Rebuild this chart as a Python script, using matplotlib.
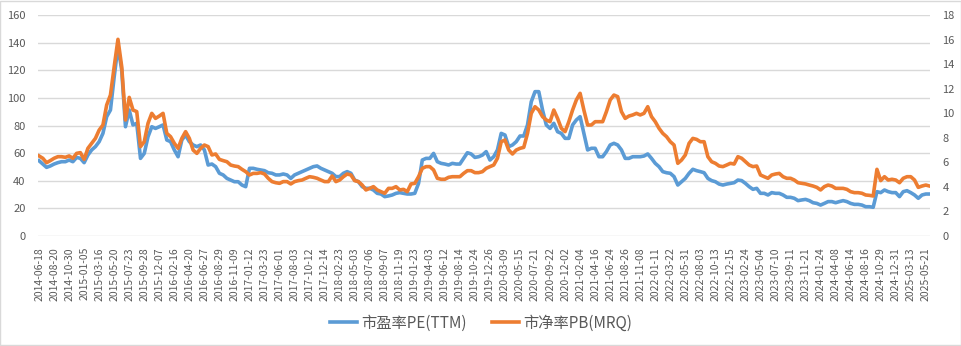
import numpy as np
import matplotlib
matplotlib.use("Agg")
import matplotlib.pyplot as plt
from matplotlib.patches import Rectangle

plt.rcParams['font.family'] = ['Noto Sans CJK SC', 'DejaVu Sans']

# 横轴标签（每隔45个交易日一个）
dates = [
    '2014-06-18', '2014-08-20', '2014-10-30',
    '2015-01-05', '2015-03-16', '2015-05-20', '2015-07-23', '2015-09-28', '2015-12-07',
    '2016-02-16', '2016-04-20', '2016-06-27', '2016-08-29', '2016-11-09',
    '2017-01-12', '2017-03-23', '2017-06-01', '2017-08-03', '2017-10-12', '2017-12-14',
    '2018-02-23', '2018-05-03', '2018-07-06', '2018-09-07', '2018-11-19',
    '2019-01-23', '2019-04-03', '2019-06-12', '2019-08-14', '2019-10-24', '2019-12-26',
    '2020-03-09', '2020-05-15', '2020-07-21', '2020-09-22', '2020-12-02',
    '2021-02-04', '2021-04-16', '2021-06-24', '2021-08-26', '2021-11-08',
    '2022-01-11', '2022-03-22', '2022-05-31', '2022-08-03', '2022-10-13', '2022-12-15',
    '2023-02-24', '2023-05-04', '2023-07-10', '2023-09-11', '2023-11-21',
    '2024-01-24', '2024-04-08', '2024-06-14', '2024-08-16', '2024-10-29', '2024-12-31',
    '2025-03-13', '2025-05-21',
]

# 市盈率PE(TTM)，每1/4个标签间隔取一个点
pe = [
    54.5, 52.1, 49.7, 50.7, 52.1, 53.1, 53.8, 53.8, 55.0, 53.8,
    56.9, 56.2, 53.1, 58.6, 62.3, 64.7, 68.3, 74.3, 86.4, 91.2,
    115.3, 137.1, 120.2, 79.1, 91.2, 80.4, 81.6, 56.2, 59.8, 71.9,
    79.1, 77.9, 79.1, 80.4, 69.5, 68.3, 62.3, 57.4, 69.5, 73.1,
    68.3, 65.9, 64.7, 65.9, 62.3, 51.4, 52.1, 50.2, 45.4, 44.2,
    41.7, 40.5, 39.3, 39.3, 36.9, 35.7, 49.0, 49.0, 48.3, 47.8,
    47.3, 45.8, 45.4, 44.2, 44.2, 44.9, 44.2, 41.7, 44.2, 45.4,
    46.6, 47.8, 49.0, 50.2, 50.7, 49.0, 47.8, 46.6, 45.4, 43.0,
    43.0, 45.4, 46.6, 45.4, 40.5, 39.3, 35.7, 34.5, 34.5, 33.3,
    30.9, 30.4, 28.5, 29.0, 29.7, 30.9, 31.4, 30.9, 30.4, 30.4,
    30.9, 38.1, 55.0, 56.2, 56.2, 59.8, 53.8, 52.6, 52.1, 51.4,
    52.6, 52.1, 52.1, 56.2, 60.3, 59.4, 56.9, 57.4, 58.6, 61.1,
    55.0, 57.4, 62.3, 74.3, 73.1, 64.7, 65.9, 68.3, 72.4, 72.4,
    80.4, 97.2, 104.5, 104.5, 91.2, 80.4, 77.9, 81.6, 75.5, 74.3,
    70.7, 70.7, 80.4, 84.0, 86.4, 74.3, 62.3, 63.5, 63.5, 57.4,
    57.4, 61.1, 65.9, 67.1, 65.9, 62.3, 56.2, 56.2, 57.4, 57.4,
    57.4, 57.9, 59.4, 56.2, 52.6, 50.2, 46.6, 45.8, 45.4, 43.0,
    36.9, 39.3, 41.7, 45.4, 48.3, 47.3, 46.6, 45.8, 41.7, 40.1,
    39.3, 37.6, 36.9, 37.6, 38.1, 38.6, 40.5, 40.1, 38.1, 35.7,
    33.8, 34.5, 30.9, 30.9, 29.7, 31.4, 30.9, 30.9, 29.7, 28.0,
    28.0, 27.3, 25.6, 26.1, 26.5, 25.6, 24.1, 23.6, 22.4, 23.6,
    24.9, 24.9, 24.1, 24.9, 25.6, 24.9, 23.6, 22.9, 22.9, 22.4,
    21.2, 21.2, 20.8, 32.1, 31.4, 33.3, 32.1, 31.4, 31.4, 28.5,
    32.1, 32.8, 31.4, 29.7, 27.3, 29.7, 30.4, 30.4,
]

# 市净率PB(MRQ)，右轴
pb = [
    6.52, 6.33, 5.97, 6.14, 6.33, 6.46, 6.46, 6.41, 6.52, 6.33,
    6.73, 6.79, 6.24, 7.14, 7.55, 7.95, 8.63, 9.04, 10.67, 11.48,
    13.79, 16.02, 13.79, 9.45, 11.29, 10.26, 10.13, 7.28, 7.68, 9.18,
    9.99, 9.58, 9.77, 9.99, 8.36, 8.09, 7.55, 7.14, 7.95, 8.50,
    7.95, 7.00, 6.73, 7.14, 7.41, 7.28, 6.60, 6.68, 6.24, 6.14,
    6.05, 5.78, 5.70, 5.65, 5.43, 5.24, 4.97, 5.10, 5.10, 5.16,
    5.05, 4.70, 4.43, 4.34, 4.29, 4.43, 4.43, 4.24, 4.43, 4.51,
    4.56, 4.70, 4.83, 4.78, 4.70, 4.56, 4.43, 4.43, 4.89, 4.43,
    4.56, 4.83, 5.05, 4.97, 4.51, 4.43, 4.15, 3.75, 3.88, 4.02,
    3.75, 3.61, 3.48, 3.88, 3.88, 4.02, 3.75, 3.80, 3.61, 4.24,
    4.29, 4.83, 5.51, 5.65, 5.65, 5.38, 4.70, 4.62, 4.62, 4.78,
    4.83, 4.83, 4.83, 5.10, 5.32, 5.32, 5.16, 5.16, 5.24, 5.51,
    5.65, 5.78, 6.33, 7.68, 7.82, 7.00, 6.68, 7.00, 7.14, 7.22,
    8.36, 9.99, 10.53, 10.26, 9.72, 9.45, 9.31, 10.26, 9.58, 8.77,
    8.50, 9.31, 10.26, 11.08, 11.62, 10.26, 9.04, 9.04, 9.31, 9.31,
    9.31, 10.13, 11.08, 11.48, 11.35, 10.13, 9.58, 9.77, 9.86, 9.99,
    9.86, 9.99, 10.53, 9.72, 9.31, 8.77, 8.36, 8.09, 7.68, 7.41,
    5.92, 6.19, 6.60, 7.55, 7.95, 7.87, 7.68, 7.68, 6.46, 6.05,
    5.92, 5.70, 5.65, 5.78, 5.92, 5.86, 6.46, 6.33, 6.05, 5.78,
    5.65, 5.70, 4.97, 4.83, 4.70, 4.97, 5.05, 5.10, 4.83, 4.70,
    4.70, 4.56, 4.34, 4.29, 4.24, 4.15, 4.07, 3.96, 3.75, 4.02,
    4.15, 4.07, 3.88, 3.88, 3.88, 3.80, 3.61, 3.53, 3.53, 3.48,
    3.34, 3.31, 3.26, 5.43, 4.51, 4.83, 4.56, 4.62, 4.56, 4.34,
    4.70, 4.83, 4.83, 4.56, 3.96, 4.07, 4.15, 4.07,
]

blue = '#5B9BD5'
orange = '#ED7D31'
grey_txt = '#595959'
grid_c = '#D9D9D9'

x = np.arange(len(pe)) / 4

fig = plt.figure(figsize=(9.62, 3.46), dpi=100)
ax = fig.add_axes([38 / 962, 1 - 236 / 346, (930 - 38) / 962, 221 / 346])
ax2 = ax.twinx()

l1, = ax.plot(x, pe, color=blue, lw=2.6, solid_joinstyle='round')
l2, = ax2.plot(x, pb, color=orange, lw=2.6, solid_joinstyle='round')

ax.set_ylim(0, 160)
ax.set_yticks(range(0, 161, 20))
ax2.set_ylim(0, 18)
ax2.set_yticks(range(0, 19, 2))
ax.set_xlim(-0.07, 59.28)
ax.set_xticks(range(len(dates)))
ax.set_xticklabels(dates, rotation=90, fontsize=7.5, color=grey_txt)

ax.grid(axis='y', color=grid_c, lw=1)
ax.set_axisbelow(True)
for a in (ax, ax2):
    for s in a.spines.values():
        s.set_visible(False)
    a.tick_params(length=0, labelsize=8, labelcolor=grey_txt)
ax.tick_params(axis='y', pad=9)
ax2.tick_params(axis='y', pad=9)
ax.tick_params(axis='x', pad=8, labelsize=7.5)

fig.legend([l1, l2], ['市盈率PE(TTM)', '市净率PB(MRQ)'], loc='center',
           bbox_to_anchor=(0.5, 1 - 323 / 346), ncol=2, frameon=False,
           fontsize=11, handlelength=1.8, handletextpad=0.3, columnspacing=1.6,
           labelcolor=grey_txt)

fig.patches.append(Rectangle((0.0005, 0.0015), 0.998, 0.996, transform=fig.transFigure,
                             fill=False, edgecolor=grid_c, lw=1))

fig.savefig('out.png', dpi=100)
